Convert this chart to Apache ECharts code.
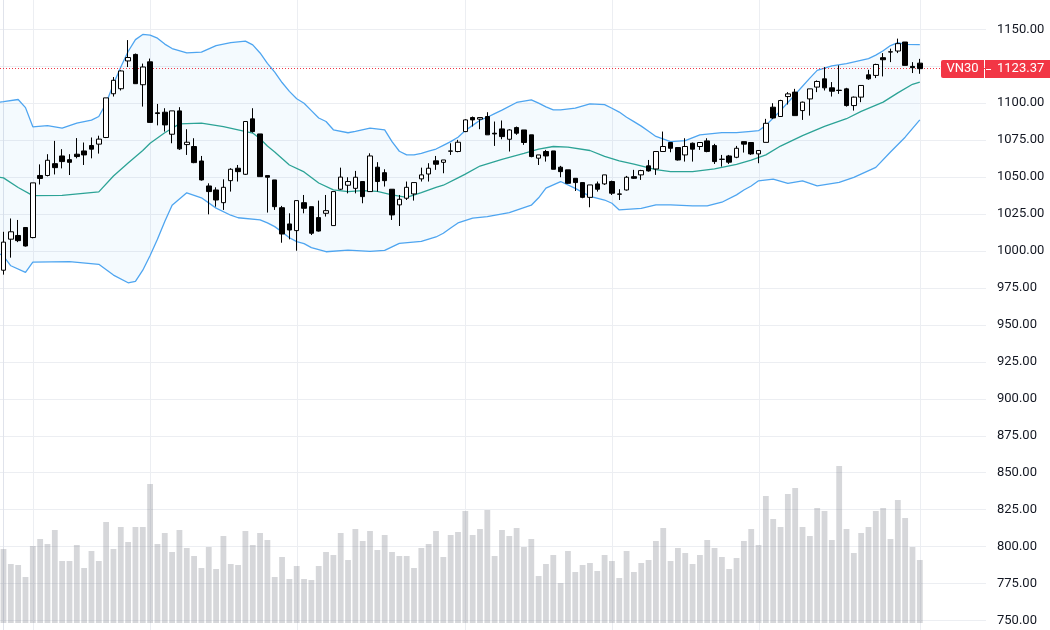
<!DOCTYPE html>
<html>
<head>
<meta charset="utf-8">
<title>VN30</title>
<script src="https://cdn.jsdelivr.net/npm/echarts@6/dist/echarts.min.js"></script>
<style>
  html, body { margin: 0; padding: 0; background: #ffffff; }
  #chart { width: 1050px; height: 630px; }
</style>
</head>
<body>
<div id="chart"></div>
<script>
const symbolName = 'VN30';
const lastPrice = 1123.37;

// daily candles, [open, close, low, high]
const candles = [
  [987, 1006, 984, 1013], [1008, 1013, 995.5, 1022], [1010.5, 1007, 1006, 1021], [1015.9, 1003.4, 1003, 1016],
  [1009.1, 1046.1, 1008.6, 1046.1], [1051.1, 1049.1, 1045, 1058.6], [1051.1, 1061.4, 1050.5, 1065.5], [1059.1, 1056.4, 1051.8, 1074.5],
  [1064.3, 1060.5, 1055.9, 1068.9], [1061.8, 1060, 1051.4, 1065.5], [1065.5, 1063.9, 1062.7, 1076.4], [1067.7, 1065, 1058.2, 1073.4],
  [1071.4, 1068.9, 1062.7, 1076.8], [1072.3, 1075.7, 1065.9, 1078], [1076.8, 1103.6, 1076.4, 1103.6], [1106.4, 1115.5, 1104.5, 1117.7],
  [1109.8, 1121.8, 1108.6, 1122.3], [1128.6, 1130.9, 1124.5, 1142.7], [1133, 1113.2, 1113, 1133.6], [1112.5, 1124.5, 1097.7, 1126.8],
  [1128, 1087, 1087, 1130.2], [1093.5, 1093, 1085, 1099.5], [1093.9, 1085.3, 1080.8, 1096.6], [1079, 1094.8, 1072.9, 1094.8],
  [1094.8, 1069.1, 1068.4, 1097.3], [1072, 1073.6, 1065, 1082.4], [1070.7, 1059.8, 1059.4, 1076.3], [1060.9, 1048.1, 1047.6, 1064.3],
  [1044, 1040.2, 1024.8, 1045.8], [1041.3, 1034.5, 1030, 1043.1], [1032.7, 1043.1, 1027.8, 1048.5], [1047.6, 1055.3, 1040.2, 1056],
  [1056, 1053.7, 1047, 1058.2], [1051.9, 1087.6, 1051.5, 1087.6], [1089.4, 1080.8, 1080.1, 1096.6], [1079.2, 1050.3, 1050.3, 1079.2],
  [1051, 1049.9, 1026, 1051], [1048.1, 1030, 1027.8, 1048.1], [1029.3, 1011.5, 1005.6, 1030.5], [1018.3, 1014.2, 1007.9, 1025.5],
  [1013.8, 1034.1, 1000.2, 1034.1], [1032.7, 1028.9, 1025.5, 1037.9], [1030, 1012, 1010.8, 1030], [1022.6, 1013.5, 1013.1, 1034.1],
  [1025.5, 1027.3, 1023.3, 1037.9], [1017.2, 1040.2, 1017.2, 1040.2], [1041.8, 1050, 1041.3, 1056.4], [1044.5, 1047, 1039, 1049.9],
  [1042.4, 1049.9, 1039, 1054.2], [1047, 1036.8, 1032.3, 1047], [1040.2, 1064.3, 1040.2, 1066.1], [1056.7, 1047, 1040.2, 1060.1],
  [1053, 1047.6, 1043.6, 1055.3], [1041.8, 1024.4, 1021, 1041.8], [1031.2, 1035, 1016.9, 1037.9], [1035.7, 1043.1, 1034.5, 1047],
  [1038.6, 1046.3, 1034.1, 1046.3], [1048.8, 1051.5, 1047, 1056.4], [1052.1, 1056, 1047, 1059.4], [1061, 1058.7, 1054.9, 1064.3],
  [1060, 1061.6, 1052.6, 1061.6], [1067.5, 1067.7, 1065, 1072.9], [1067.3, 1073.6, 1066.8, 1075.2], [1080.8, 1088.7, 1080.4, 1089.2],
  [1090.3, 1088.7, 1084.2, 1091], [1089.2, 1090.3, 1082.4, 1090.3], [1091, 1078.6, 1078.6, 1093.9], [1079.7, 1079.2, 1071.1, 1087.6],
  [1082.6, 1077.4, 1075.6, 1088.3], [1075.6, 1081.9, 1067.3, 1082.4], [1083.5, 1079.7, 1078.6, 1084.2], [1081.9, 1073.4, 1071.8, 1081.9],
  [1078.6, 1063.9, 1063.4, 1078.6], [1062.8, 1065, 1058.2, 1065], [1067.3, 1064.3, 1060.5, 1068.4], [1067.7, 1055.3, 1055.3, 1067.7],
  [1056.7, 1053.7, 1049.9, 1057.6], [1054.9, 1045.8, 1045.4, 1054.9], [1049.2, 1046.3, 1040.6, 1049.2], [1046.3, 1036.3, 1035.7, 1046.3],
  [1036.3, 1044.7, 1029.6, 1044.7], [1045.4, 1041.8, 1040.2, 1047], [1045.4, 1051.5, 1044.7, 1051.5], [1047, 1039.1, 1037.9, 1047.6],
  [1038.6, 1038.4, 1034.5, 1041.8], [1041.3, 1049.9, 1040.9, 1050.8], [1050.3, 1049.2, 1048.8, 1054.9], [1051.5, 1054.4, 1048.1, 1054.9],
  [1057.6, 1054.2, 1053.7, 1061.6], [1055.5, 1067.3, 1051.5, 1067.3], [1067.3, 1070.7, 1067.3, 1080.8], [1073.4, 1069.5, 1066.8, 1073.4],
  [1070, 1061.6, 1061.2, 1070], [1065, 1070.7, 1060.5, 1076.3], [1072.9, 1068.9, 1060.5, 1073.4], [1070.7, 1073.4, 1068.4, 1073.4],
  [1074.5, 1067.3, 1066.8, 1076.3], [1071.3, 1060.5, 1058.9, 1072.5], [1062.1, 1062, 1057.1, 1065], [1064.3, 1060.1, 1058.9, 1065],
  [1063.4, 1069.5, 1062.8, 1071.1], [1074, 1072.3, 1066.6, 1074], [1073.4, 1065.7, 1065, 1073.4], [1065.7, 1068, 1059.4, 1068],
  [1073.5, 1086.4, 1073.5, 1089.4], [1097.3, 1090, 1089.4, 1100], [1091, 1101.8, 1091, 1102.3], [1104.5, 1106.3, 1099.1, 1107.5],
  [1107.5, 1091.6, 1091.6, 1109.7], [1095, 1100.7, 1088.7, 1101.1], [1102.9, 1109.7, 1091.6, 1109.7], [1110.9, 1114.7, 1107.5, 1115.4],
  [1116.5, 1110.4, 1108.6, 1124.4], [1110.4, 1108.1, 1104.5, 1114.3], [1108.8, 1108.6, 1106.3, 1125.6], [1109.7, 1098.4, 1097.7, 1110.4],
  [1098.4, 1104.1, 1095, 1104.5], [1104.1, 1112, 1100.7, 1112], [1119.2, 1116.5, 1115.8, 1122.6], [1118.8, 1126.2, 1117, 1126.7],
  [1130.8, 1129.4, 1118.1, 1133.9], [1134.6, 1134.8, 1127.8, 1136.9], [1135.3, 1140.3, 1133.9, 1143.7], [1141.4, 1125.6, 1125.6, 1141.4],
  [1124.9, 1124, 1120.4, 1127.8], [1127.1, 1123.37, 1119.9, 1130]
];

const volumes = [
  74, 59, 58, 46, 77, 84, 79, 93, 62, 62, 78, 55, 72, 62, 101, 74, 96, 81, 96, 96,
  139, 79, 90, 71, 93, 75, 67, 55, 76, 54, 87, 59, 58, 92, 78, 90, 83, 46, 66, 44,
  57, 44, 43, 57, 71, 68, 90, 63, 94, 82, 92, 73, 88, 71, 67, 67, 55, 75, 79, 92,
  66, 88, 91, 112, 88, 94, 113, 67, 93, 87, 95, 76, 84, 47, 59, 68, 40, 72, 51, 58,
  60, 52, 68, 62, 45, 72, 51, 60, 63, 82, 95, 62, 75, 70, 59, 68, 83, 75, 66, 54,
  65, 82, 94, 78, 127, 104, 96, 129, 135, 96, 87, 115, 112, 83, 157, 94, 70, 90, 96, 112,
  115, 84, 123, 105, 76, 63
];

// Bollinger bands, read as [candle index, value]
const upperBand = [
  [-0.5, 1100.7], [0, 1101], [2, 1102.5], [3, 1097], [4, 1084], [6, 1084.8], [8, 1083.2], [10, 1086.5], [12, 1088.5],
  [13, 1091], [14, 1100], [15, 1113], [16, 1124.5], [17, 1135], [18, 1143], [19, 1146.5], [20, 1146], [21, 1144],
  [22, 1140], [23, 1137], [25, 1134], [27, 1134.5], [29, 1139], [31, 1141], [33, 1142], [34, 1139.5], [35, 1134],
  [36, 1127], [37, 1121], [38, 1114], [39, 1108], [40, 1103], [41, 1100], [42, 1095], [43, 1090], [44, 1087.6],
  [45, 1082], [47, 1080], [48, 1081], [50, 1083.2], [52, 1082], [53, 1074], [54, 1067.5], [55, 1065], [56, 1065],
  [57, 1066], [58, 1067.5], [59, 1069], [60, 1071.5], [61, 1074], [62, 1077], [63, 1081.5], [64, 1085], [65, 1088.5],
  [66, 1090.5], [67, 1093], [68, 1095.3], [70, 1100.5], [72, 1102.3], [73, 1100], [74, 1097.5], [75, 1095.5], [76, 1095.5],
  [78, 1096.6], [80, 1099.5], [82, 1099], [83, 1096.6], [84, 1094], [85, 1090.5], [86, 1087.5], [87, 1084.5], [88, 1081],
  [89, 1077.5], [91, 1074], [93, 1074.7], [95, 1078.6], [98, 1080.1], [100, 1080.1], [102, 1081], [103, 1081.4], [104, 1085],
  [105, 1090], [106, 1095], [107, 1100.5], [108, 1106], [109, 1111.5], [110, 1117], [111, 1122.2], [113, 1125.2], [115, 1126.8],
  [118, 1130.2], [119, 1132.5], [120, 1135.5], [121, 1139], [122, 1141], [123, 1139.8], [125, 1139.6]
];

const middleBand = [
  [-0.5, 1049.8], [0, 1049.5], [2, 1043], [4, 1037.5], [8, 1037.7], [13, 1040], [15, 1050.7], [17, 1059.5], [19, 1068],
  [20, 1072.9], [22, 1080], [24, 1086], [27, 1086.5], [30, 1084.2], [32, 1082], [34, 1079.8], [35, 1076], [36, 1071],
  [37, 1067], [39, 1058.2], [41, 1053.5], [43, 1046], [45, 1041.3], [47, 1040.2], [49, 1040.9], [51, 1040.3], [53, 1038],
  [55, 1036.3], [57, 1039.5], [59, 1043], [60, 1044.5], [62, 1049.5], [63, 1052], [65, 1057.5], [68, 1062], [71, 1066],
  [73, 1069], [75, 1070.7], [77, 1070.3], [80, 1068], [82, 1064], [84, 1061], [86, 1058.7], [89, 1055], [91, 1053.7],
  [94, 1053.7], [97, 1055.6], [100, 1058.6], [102, 1061.5], [104, 1065], [106, 1071], [109, 1078.1], [112, 1084.3],
  [115, 1089.5], [117, 1094.5], [120, 1100.7], [122, 1107], [124, 1112.8], [125, 1114.3]
];

const lowerBand = [
  [-0.5, 998], [0, 996.5], [1, 990], [3, 985.5], [4, 992.5], [9, 992.8], [13, 991], [15, 983.7], [17, 978.5],
  [18, 979.5], [19, 987], [20, 997], [21, 1008], [22, 1020], [23, 1031], [25, 1039.4], [27, 1036], [29, 1029],
  [31, 1024.2], [32, 1022.5], [35, 1021], [36, 1019], [37, 1016.5], [38, 1012.8], [39, 1009], [40, 1006.3], [41, 1005],
  [42, 1002.3], [44, 999.5], [47, 1000.6], [50, 999.7], [52, 1000.4], [54, 1005.2], [57, 1006.5], [59, 1009.5], [60, 1012],
  [61, 1015.5], [62, 1019], [64, 1022.3], [66, 1023.3], [69, 1026], [72, 1031], [73, 1036], [74, 1042.5], [76, 1047],
  [78, 1042.4], [80, 1037], [82, 1034.5], [83, 1032.3], [84, 1027.8], [87, 1028.9], [89, 1031.2], [91, 1031.2], [94, 1030.5],
  [96, 1030.5], [98, 1033], [100, 1038], [101, 1041.3], [102, 1044], [103, 1047.5], [105, 1048.6], [107, 1045.7], [109, 1047.5],
  [111, 1044.1], [114, 1046.4], [116, 1049.8], [119, 1056.6], [121, 1067], [123, 1077], [125, 1088.7]
];

// first trading day of each month (vertical grid lines)
const monthStarts = [4, 20, 40, 63, 83, 103, 125];

const priceMin = 750;
const priceMax = 1150;
const priceStep = 25;

const chart = echarts.init(document.getElementById('chart'));

const gridColor = '#eceef2';
const font = 'Roboto, "Noto Sans", sans-serif';
const xMin = -0.4775;
const xMax = 134.03;
const red = '#f23645';

const xAxes = [0, 1, 2].map((g) => ({
  type: 'value',
  gridIndex: g,
  min: xMin,
  max: xMax,
  show: false
}));

const option = {
  animation: false,
  backgroundColor: '#ffffff',
  grid: [
    { left: 0, right: 64, top: 29.3, bottom: 9.5 }, // price
    { left: 0, right: 64, top: 0, bottom: 7 },      // volume
    { left: 0, right: 64, top: 0, bottom: 0 }       // time grid
  ],
  xAxis: xAxes,
  yAxis: [
    {
      type: 'value',
      gridIndex: 0,
      position: 'right',
      min: priceMin,
      max: priceMax,
      interval: priceStep,
      axisLine: { show: false },
      axisTick: { show: false },
      axisLabel: {
        margin: 11,
        color: '#131722',
        fontSize: 13,
        fontFamily: font,
        formatter: (v) => v.toFixed(2)
      },
      splitLine: { lineStyle: { color: gridColor, width: 1 } }
    },
    { type: 'value', gridIndex: 1, min: 0, max: 623, show: false },
    {
      type: 'value',
      gridIndex: 2,
      min: 0,
      max: 1,
      position: 'right',
      axisLine: { show: true, lineStyle: { color: '#e0e3eb' } },
      axisTick: { show: false },
      axisLabel: { show: false },
      splitLine: { show: false }
    }
  ],
  series: [
    {
      type: 'custom',
      name: 'month lines',
      xAxisIndex: 2,
      yAxisIndex: 2,
      silent: true,
      z: 0,
      data: monthStarts.map((i) => [i, 0]),
      renderItem: (params, api) => {
        const x = Math.round(api.coord([api.value(0), 0])[0]) + 0.5;
        return {
          type: 'line',
          shape: { x1: x, y1: 0, x2: x, y2: params.coordSys.y + params.coordSys.height },
          style: { stroke: gridColor, lineWidth: 1 }
        };
      }
    },
    {
      type: 'bar',
      name: 'Volume',
      xAxisIndex: 1,
      yAxisIndex: 1,
      barWidth: 5.8,
      silent: true,
      z: 1,
      itemStyle: { color: 'rgba(120,123,134,0.3)' },
      data: volumes.map((v, i) => [i, v])
    },
    {
      type: 'custom',
      name: 'BB fill',
      xAxisIndex: 0,
      yAxisIndex: 0,
      silent: true,
      z: 2,
      data: [[0, 1000]],
      renderItem: (params, api) => {
        const pts = upperBand.map((p) => api.coord(p))
          .concat(lowerBand.slice().reverse().map((p) => api.coord(p)));
        return {
          type: 'polygon',
          shape: { points: pts },
          style: { fill: 'rgba(33,150,243,0.05)' }
        };
      }
    },
    {
      type: 'line',
      name: 'Upper',
      xAxisIndex: 0,
      yAxisIndex: 0,
      symbol: 'none',
      silent: true,
      z: 3,
      lineStyle: { color: '#4ea5f0', width: 1.3 },
      data: upperBand
    },
    {
      type: 'line',
      name: 'Basis',
      xAxisIndex: 0,
      yAxisIndex: 0,
      symbol: 'none',
      silent: true,
      z: 3,
      lineStyle: { color: '#2ca396', width: 1.3 },
      data: middleBand
    },
    {
      type: 'line',
      name: 'Lower',
      xAxisIndex: 0,
      yAxisIndex: 0,
      symbol: 'none',
      silent: true,
      z: 3,
      lineStyle: { color: '#4ea5f0', width: 1.3 },
      data: lowerBand
    },
    {
      type: 'candlestick',
      name: symbolName,
      xAxisIndex: 0,
      yAxisIndex: 0,
      barWidth: 5,
      z: 5,
      itemStyle: {
        color: '#ffffff',
        color0: '#000000',
        borderColor: '#000000',
        borderColor0: '#000000',
        borderWidth: 1
      },
      data: candles.map((c, i) => [i].concat(c)),
      markLine: {
        silent: true,
        symbol: ['none', 'none'],
        label: { show: false },
        lineStyle: { color: red, type: [1, 2], width: 1 },
        data: [{ yAxis: lastPrice }]
      }
    }
  ]
};

chart.setOption(option);

// last price badge on the price scale
const yPx = Math.round(chart.convertToPixel({ yAxisIndex: 0 }, lastPrice));
const plotRight = 1050 - 64;
chart.setOption({
  graphic: [
    {
      type: 'rect',
      z: 100,
      shape: { x: plotRight - 45, y: yPx - 9, width: 43, height: 18, r: [2, 0, 0, 2] },
      style: { fill: red }
    },
    {
      type: 'text',
      z: 101,
      x: plotRight - 23.5,
      y: yPx,
      style: { text: symbolName, fill: '#ffffff', font: '13px ' + font, align: 'center', verticalAlign: 'middle' }
    },
    {
      type: 'rect',
      z: 100,
      shape: { x: plotRight - 1, y: yPx - 9, width: 65, height: 18 },
      style: { fill: red }
    },
    {
      type: 'line',
      z: 101,
      shape: { x1: plotRight, y1: yPx + 0.5, x2: plotRight + 5, y2: yPx + 0.5 },
      style: { stroke: '#ffffff', lineWidth: 1 }
    },
    {
      type: 'text',
      z: 101,
      x: plotRight + 11,
      y: yPx,
      style: { text: lastPrice.toFixed(2), fill: '#ffffff', font: '13px ' + font, align: 'left', verticalAlign: 'middle' }
    }
  ]
});

window.addEventListener('resize', () => chart.resize());
</script>
</body>
</html>
